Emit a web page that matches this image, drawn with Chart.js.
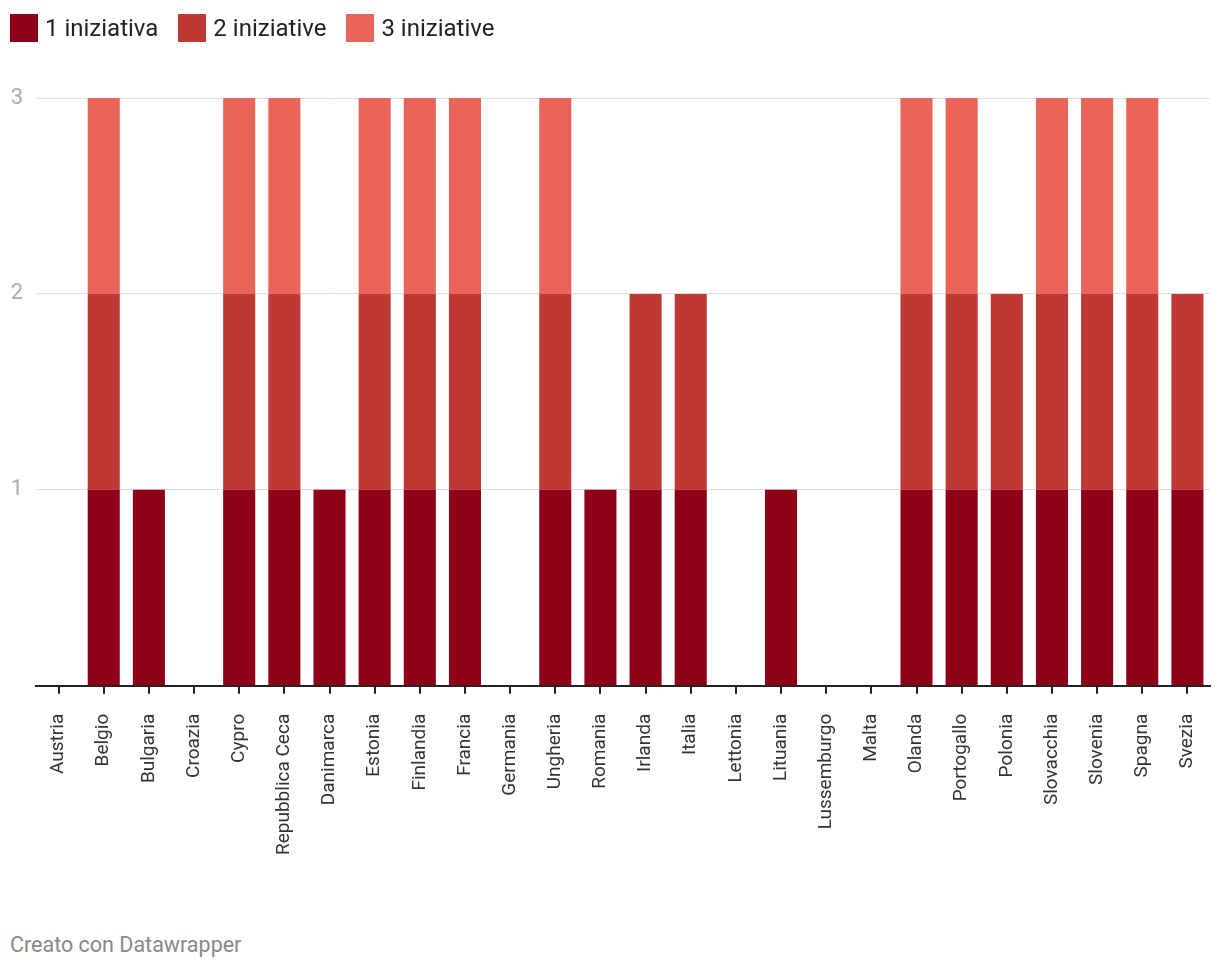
<!DOCTYPE html>
<html>
<head>
<meta charset="utf-8">
<script src="https://cdn.jsdelivr.net/npm/chart.js@4"></script>
<style>
  body { margin: 0; background: #fff; font-family: Roboto, sans-serif; }
  #wrap { position: relative; width: 1220px; height: 970px; }
  #legend { position: absolute; top: 14px; left: 10px; display: flex; align-items: center; }
  .item { display: flex; align-items: center; margin-right: 20px; font-size: 24px; color: #222; }
  .sw { width: 28px; height: 28px; margin-right: 7px; }
  #box { position: absolute; top: 0; left: 0; width: 1220px; height: 885px; }
  #foot { position: absolute; top: 932px; left: 10px; font-size: 21.5px; color: #888; }
</style>
</head>
<body>
<div id="wrap">
  <div id="box"><canvas id="chart"></canvas></div>
  <div id="legend"></div>
  <div id="foot">Creato con Datawrapper</div>
</div>
<script>
const countries = ['Austria', 'Belgio', 'Bulgaria', 'Croazia', 'Cypro', 'Repubblica Ceca', 'Danimarca',
  'Estonia', 'Finlandia', 'Francia', 'Germania', 'Ungheria', 'Romania', 'Irlanda', 'Italia', 'Lettonia',
  'Lituania', 'Lussemburgo', 'Malta', 'Olanda', 'Portogallo', 'Polonia', 'Slovacchia', 'Slovenia',
  'Spagna', 'Svezia'];
const seriesNames = ['1 iniziativa', '2 iniziative', '3 iniziative'];
const one   = [0,1,1,0,1,1,1,1,1,1,0,1,1,1,1,0,1,0,0,1,1,1,1,1,1,1];
const two   = [0,1,0,0,1,1,0,1,1,1,0,1,0,1,1,0,0,0,0,1,1,1,1,1,1,1];
const three = [0,1,0,0,1,1,0,1,1,1,0,1,0,0,0,0,0,0,0,1,1,0,1,1,1,0];
const yTicks = [1, 2, 3];
const colors = ['#8f0019', '#be3934', '#eb6459'];

const datasets = [one, two, three].map((d, i) => ({
  label: seriesNames[i],
  data: d,
  backgroundColor: colors[i],
  borderWidth: 0,
  categoryPercentage: 1,
  barPercentage: 0.71
}));

// legend in html
const legend = document.getElementById('legend');
datasets.forEach(ds => {
  const el = document.createElement('div');
  el.className = 'item';
  el.innerHTML = `<span class="sw" style="background:${ds.backgroundColor}"></span>${ds.label}`;
  legend.appendChild(el);
});

const ctx = document.getElementById('chart').getContext('2d');
new Chart(ctx, {
  type: 'bar',
  data: { labels: countries, datasets: datasets },
  options: {
    responsive: true,
    maintainAspectRatio: false,
    animation: false,
    layout: { padding: { top: 98, left: 10, right: 10, bottom: 10 } },
    plugins: { legend: { display: false }, tooltip: { enabled: false } },
    scales: {
      x: {
        stacked: true,
        grid: { offset: false, drawOnChartArea: false, drawTicks: true, tickLength: 8, color: '#222', lineWidth: 2 },
        border: { display: true, color: '#222', width: 2 },
        afterFit: axis => { axis.paddingLeft = 0; axis.paddingRight = 0; },
        ticks: {
          minRotation: 90, maxRotation: 90, autoSkip: false, padding: 20,
          color: '#333', font: { family: 'Roboto', size: 19 }
        }
      },
      y: {
        stacked: true,
        min: 0, max: 3,
        border: { display: false },
        grid: {
          drawTicks: false,
          color: c => c.tick.value === 0 ? 'rgba(0,0,0,0)' : '#dedede',
          lineWidth: 1
        },
        afterBuildTicks: axis => { axis.ticks = [0].concat(yTicks).map(v => ({ value: v })); },
        afterFit: axis => { axis.width = 26; },
        ticks: {
          padding: 13,
          color: '#aaa',
          font: { family: 'Roboto', size: 22 },
          callback: v => v === 0 ? '' : v
        }
      }
    }
  }
});
</script>
</body>
</html>
